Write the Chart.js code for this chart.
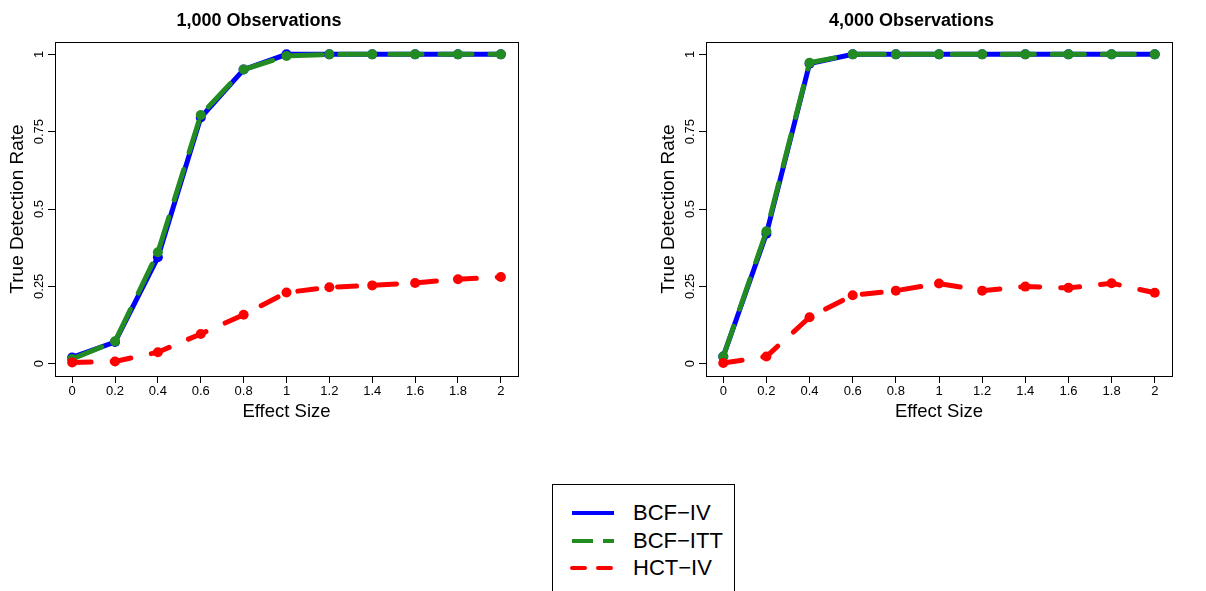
<!DOCTYPE html>
<html>
<head>
<meta charset="utf-8">
<script src="https://cdn.jsdelivr.net/npm/chart.js@4/dist/chart.umd.min.js"></script>
<style>
  html, body { margin: 0; padding: 0; background: #fff; overflow: hidden; }
  body { width: 1206px; height: 591px; position: relative; font-family: "Liberation Sans", Arial, sans-serif; }
  .panel { position: absolute; top: 0; }
  #legend {
    position: absolute; left: 552px; top: 484px; width: 183px; height: 130px;
    border: 1px solid #000; box-sizing: border-box;
  }
  .row { position: absolute; left: 17px; height: 24px; }
  .row svg { position: absolute; left: 0; top: 0; }
  .row span { position: absolute; left: 63px; top: 0px; font-size: 22px; line-height: 24px; color: #000; white-space: nowrap; }
</style>
</head>
<body>
<div class="panel" style="left:0px"><canvas id="chartLeft" width="560" height="430"></canvas></div>
<div class="panel" style="left:651px"><canvas id="chartRight" width="555" height="430"></canvas></div>
<div id="legend">
  <div class="row" style="top:16px"><svg width="50" height="24"><line x1="2" y1="12" x2="44" y2="12" stroke="#0000ff" stroke-width="4"/></svg><span>BCF−IV</span></div>
  <div class="row" style="top:43.5px"><svg width="50" height="24"><line x1="2" y1="12" x2="44" y2="12" stroke="#228b22" stroke-width="4" stroke-dasharray="21 10"/></svg><span>BCF−ITT</span></div>
  <div class="row" style="top:71px"><svg width="50" height="24"><line x1="2" y1="12" x2="44" y2="12" stroke="#ff0000" stroke-width="4" stroke-dasharray="13 13" stroke-linecap="round"/></svg><span>HCT−IV</span></div>
</div>
<script>
// effect sizes (x) and tick labels
const effectSizes = [0, 0.2, 0.4, 0.6, 0.8, 1, 1.2, 1.4, 1.6, 1.8, 2];
const xTickLabels = ["0", "0.2", "0.4", "0.6", "0.8", "1", "1.2", "1.4", "1.6", "1.8", "2"];
const yTicks = [0, 0.25, 0.5, 0.75, 1];
const yTickLabels = ["0", "0.25", "0.5", "0.75", "1"];

// 1,000 observations
const bcfIv1000 = [0.02, 0.07, 0.344, 0.796, 0.951, 1.0, 1, 1, 1, 1, 1];
const bcfItt1000 = [0.015, 0.072, 0.36, 0.804, 0.951, 0.995, 1, 1, 1, 1, 1];
const hctIv1000 = [0.004, 0.007, 0.037, 0.096, 0.158, 0.23, 0.247, 0.253, 0.261, 0.273, 0.28];

// 4,000 observations
const bcfIv4000 = [0.023, 0.42, 0.97, 1, 1, 1, 1, 1, 1, 1, 1];
const bcfItt4000 = [0.023, 0.428, 0.973, 1, 1, 1, 1, 1, 1, 1, 1];
const hctIv4000 = [0.002, 0.023, 0.15, 0.221, 0.236, 0.259, 0.236, 0.249, 0.245, 0.26, 0.229];

const FONT = "'Liberation Sans', Arial, sans-serif";

function pts(ys) {
  return effectSizes.map((x, i) => ({ x: x, y: ys[i] }));
}

// box around plot region + rotated y tick labels (R style)
const rBox = {
  id: "rBox",
  afterDraw(chart) {
    const { ctx, chartArea: a } = chart;
    const ys = chart.scales.y;
    ctx.save();
    ctx.strokeStyle = "#000";
    ctx.lineWidth = 1;
    ctx.strokeRect(Math.round(a.left) + 0.5, Math.round(a.top) + 0.5,
      Math.round(a.right - a.left), Math.round(a.bottom - a.top));
    ctx.fillStyle = "#000";
    ctx.font = "13px " + FONT;
    ctx.textAlign = "center";
    ctx.textBaseline = "middle";
    yTicks.forEach((v, i) => {
      ctx.save();
      ctx.translate(a.left - 16, ys.getPixelForValue(v));
      ctx.rotate(-Math.PI / 2);
      ctx.fillText(yTickLabels[i], 0, 0);
      ctx.restore();
    });
    ctx.restore();
  }
};

function makeChart(id, title, iv, itt, hct, padRight) {
  return new Chart(document.getElementById(id), {
    type: "line",
    data: {
      datasets: [
        {
          label: "BCF−IV", data: pts(iv), order: 3,
          borderColor: "#0000ff", backgroundColor: "#0000ff",
          borderWidth: 5, pointRadius: 5, pointBorderWidth: 0,
          borderCapStyle: "round", tension: 0
        },
        {
          label: "BCF−ITT", data: pts(itt), order: 2,
          borderColor: "#228b22", backgroundColor: "#228b22",
          borderWidth: 5, borderDash: [32, 18], borderCapStyle: "round",
          pointRadius: 5, pointBorderWidth: 0, tension: 0
        },
        {
          label: "HCT−IV", data: pts(hct), order: 1,
          borderColor: "#ff0000", backgroundColor: "#ff0000",
          borderWidth: 5, borderDash: [19, 21], borderCapStyle: "round",
          pointRadius: 5, pointBorderWidth: 0, tension: 0
        }
      ]
    },
    options: {
      responsive: false,
      animation: false,
      layout: { padding: { left: 0, right: padRight, top: 0, bottom: 0 } },
      plugins: {
        legend: { display: false },
        tooltip: { enabled: false },
        title: {
          display: true, text: title, color: "#000",
          font: { family: FONT, size: 18, weight: "bold", lineHeight: 1.2 },
          padding: { top: 10, bottom: 10.4 }
        }
      },
      scales: {
        x: {
          type: "linear", min: -0.08, max: 2.08,
          afterBuildTicks: (s) => { s.ticks = effectSizes.map(v => ({ value: v })); },
          afterFit: (s) => { s.height = 54; },
          border: { display: false },
          grid: { drawOnChartArea: false, drawTicks: true, tickLength: 7, tickColor: "#000", color: "#000" },
          ticks: {
            color: "#000", font: { family: FONT, size: 13 }, padding: 1,
            maxRotation: 0, autoSkip: false,
            callback: (v, i) => xTickLabels[i]
          },
          title: {
            display: true, text: "Effect Size", color: "#000",
            font: { family: FONT, size: 18.5, lineHeight: 1.2 },
            padding: { top: 0, bottom: 7 }
          }
        },
        y: {
          type: "linear", min: -0.04, max: 1.04,
          afterBuildTicks: (s) => { s.ticks = yTicks.map(v => ({ value: v })); },
          afterFit: (s) => { s.width = 55; },
          border: { display: false },
          grid: { drawOnChartArea: false, drawTicks: true, tickLength: 7, tickColor: "#000", color: "#000" },
          ticks: { display: false },
          title: {
            display: true, text: "True Detection Rate", color: "#000",
            font: { family: FONT, size: 19, lineHeight: 1.2 },
            padding: { top: 6, bottom: 0 }
          }
        }
      }
    },
    plugins: [rBox]
  });
}

makeChart("chartLeft", "1,000 Observations", bcfIv1000, bcfItt1000, hctIv1000, 42);
makeChart("chartRight", "4,000 Observations", bcfIv4000, bcfItt4000, hctIv4000, 34);
</script>
</body>
</html>
